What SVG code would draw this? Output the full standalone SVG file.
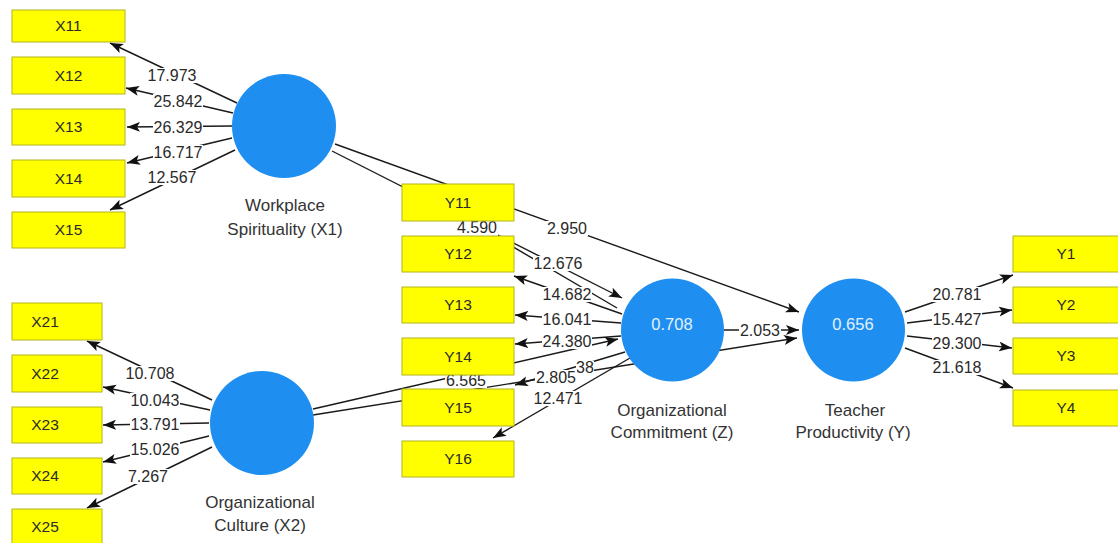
<svg xmlns="http://www.w3.org/2000/svg" width="1118" height="543" viewBox="0 0 1118 543">
<style>
.bg{fill:#ffffff}
.ln{stroke:#1a1a1a;stroke-width:1.4;fill:none}
.arr{marker-end:url(#ah)}
.box{fill:#ffff00;stroke:#b4b41e;stroke-width:1}
.bt{font-family:"Liberation Sans",Arial,sans-serif;font-size:15.5px;fill:#2a2a2a;text-anchor:middle}
.num{font-family:"Liberation Sans",Arial,sans-serif;font-size:16px;fill:#2a2a2a;text-anchor:middle}
.lbw{fill:#ffffff}
.circ{fill:#1e8ff0}
.cv{font-family:"Liberation Sans",Arial,sans-serif;font-size:16.5px;fill:#e4f2ff;text-anchor:middle}
.nm{font-family:"Liberation Sans",Arial,sans-serif;font-size:17px;fill:#333333;text-anchor:middle}
</style>
<defs>
<marker id="ah" markerUnits="userSpaceOnUse" markerWidth="14" markerHeight="11" refX="13" refY="5" orient="auto">
<path d="M0,0 L13,5 L0,10 L3,5 z" fill="#111111"/>
</marker>
</defs>
<rect x="0" y="0" width="1118" height="543" class="bg"/>
<g id="connectors">
<line class="ln arr" x1="237" y1="103" x2="110" y2="43"/>
<line class="ln arr" x1="233" y1="113" x2="126" y2="88"/>
<line class="ln arr" x1="232" y1="126" x2="127" y2="127"/>
<line class="ln arr" x1="232" y1="138" x2="127" y2="163"/>
<line class="ln arr" x1="235" y1="150" x2="110" y2="210"/>
<line class="ln arr" x1="212" y1="400" x2="87" y2="341"/>
<line class="ln arr" x1="210" y1="410" x2="103" y2="387"/>
<line class="ln arr" x1="209" y1="423" x2="103" y2="425"/>
<line class="ln arr" x1="209" y1="436" x2="103" y2="462"/>
<line class="ln arr" x1="212" y1="447" x2="87" y2="508"/>
<line class="ln arr" x1="905" y1="312" x2="1013" y2="275"/>
<line class="ln arr" x1="907" y1="323" x2="1012" y2="310"/>
<line class="ln arr" x1="907" y1="336" x2="1012" y2="348"/>
<line class="ln arr" x1="905" y1="348" x2="1013" y2="388"/>
<line class="ln arr" x1="617" y1="308" x2="469" y2="221"/>
<line class="ln arr" x1="622" y1="314" x2="514" y2="276"/>
<line class="ln arr" x1="621" y1="323" x2="515" y2="315"/>
<line class="ln arr" x1="621" y1="336" x2="515" y2="344"/>
<line class="ln arr" x1="625" y1="352" x2="515" y2="385"/>
<line class="ln arr" x1="630" y1="358" x2="493" y2="438"/>
<line class="ln arr" x1="332" y1="151" x2="622" y2="298"/>
<line class="ln arr" x1="335" y1="144" x2="799" y2="312"/>
<line class="ln arr" x1="313" y1="409" x2="618" y2="339"/>
<line class="ln arr" x1="313" y1="415" x2="797" y2="338"/>
<line class="ln arr" x1="724" y1="330" x2="799" y2="330"/>
</g>
<g id="labels">
<rect class="lbw" x="147" y="68" width="50" height="15"/><text class="num" x="172" y="81">17.973</text>
<rect class="lbw" x="153" y="94" width="50" height="15"/><text class="num" x="178" y="107">25.842</text>
<rect class="lbw" x="153" y="120" width="50" height="15"/><text class="num" x="178" y="133">26.329</text>
<rect class="lbw" x="153" y="145" width="50" height="15"/><text class="num" x="178" y="158">16.717</text>
<rect class="lbw" x="147" y="170" width="50" height="15"/><text class="num" x="172" y="183">12.567</text>
<rect class="lbw" x="125" y="366" width="50" height="15"/><text class="num" x="150" y="379">10.708</text>
<rect class="lbw" x="130" y="393" width="50" height="15"/><text class="num" x="155" y="406">10.043</text>
<rect class="lbw" x="130" y="417" width="50" height="15"/><text class="num" x="155" y="430">13.791</text>
<rect class="lbw" x="130" y="442" width="50" height="15"/><text class="num" x="155" y="455">15.026</text>
<rect class="lbw" x="127" y="469" width="42" height="15"/><text class="num" x="148" y="482">7.267</text>
<rect class="lbw" x="546" y="221" width="42" height="15"/><text class="num" x="567" y="234">2.950</text>
<rect class="lbw" x="456" y="221" width="42" height="15"/><text class="num" x="477" y="233">4.590</text>
<rect class="lbw" x="533" y="256" width="50" height="15"/><text class="num" x="558" y="269">12.676</text>
<rect class="lbw" x="542" y="287" width="50" height="15"/><text class="num" x="567" y="300">14.682</text>
<rect class="lbw" x="542" y="312" width="50" height="15"/><text class="num" x="567" y="325">16.041</text>
<rect class="lbw" x="542" y="334" width="50" height="15"/><text class="num" x="567" y="347">24.380</text>
<rect class="lbw" x="576" y="361" width="18" height="14"/><text class="num" x="585" y="373">38</text>
<rect class="lbw" x="535" y="370" width="42" height="15"/><text class="num" x="556" y="383">2.805</text>
<rect class="lbw" x="533" y="391" width="50" height="15"/><text class="num" x="558" y="404">12.471</text>
<rect class="lbw" x="445" y="373" width="42" height="15"/><text class="num" x="466" y="386">6.565</text>
<rect class="lbw" x="739" y="323" width="42" height="15"/><text class="num" x="760" y="336">2.053</text>
<rect class="lbw" x="932" y="287" width="50" height="15"/><text class="num" x="957" y="300">20.781</text>
<rect class="lbw" x="932" y="312" width="50" height="15"/><text class="num" x="957" y="325">15.427</text>
<rect class="lbw" x="932" y="336" width="50" height="15"/><text class="num" x="957" y="349">29.300</text>
<rect class="lbw" x="932" y="360" width="50" height="15"/><text class="num" x="957" y="373">21.618</text>
</g>
<g id="X11"><rect class="box" x="12" y="10" width="113" height="32"/><text class="bt" x="68.5" y="31">X11</text></g>
<g id="X12"><rect class="box" x="12" y="57" width="113" height="37"/><text class="bt" x="68.5" y="81">X12</text></g>
<g id="X13"><rect class="box" x="12" y="109" width="113" height="36"/><text class="bt" x="68.5" y="132">X13</text></g>
<g id="X14"><rect class="box" x="12" y="160" width="113" height="37"/><text class="bt" x="68.5" y="184">X14</text></g>
<g id="X15"><rect class="box" x="12" y="212" width="113" height="36"/><text class="bt" x="68.5" y="235">X15</text></g>
<g id="X21"><rect class="box" x="12" y="303" width="90" height="37"/><text class="bt" x="45" y="327">X21</text></g>
<g id="X22"><rect class="box" x="12" y="355" width="90" height="37"/><text class="bt" x="45" y="379">X22</text></g>
<g id="X23"><rect class="box" x="12" y="407" width="90" height="36"/><text class="bt" x="45" y="430">X23</text></g>
<g id="X24"><rect class="box" x="12" y="458" width="90" height="36"/><text class="bt" x="45" y="481">X24</text></g>
<g id="X25"><rect class="box" x="12" y="509" width="90" height="36"/><text class="bt" x="45" y="532">X25</text></g>
<g id="Y11"><rect class="box" x="402" y="184" width="112" height="37"/><text class="bt" x="458" y="208">Y11</text></g>
<g id="Y12"><rect class="box" x="402" y="236" width="112" height="36"/><text class="bt" x="458" y="259">Y12</text></g>
<g id="Y13"><rect class="box" x="402" y="287" width="112" height="36"/><text class="bt" x="458" y="310">Y13</text></g>
<g id="Y14"><rect class="box" x="402" y="338" width="112" height="37"/><text class="bt" x="458" y="362">Y14</text></g>
<g id="Y15"><rect class="box" x="402" y="389" width="112" height="37"/><text class="bt" x="458" y="413">Y15</text></g>
<g id="Y16"><rect class="box" x="402" y="441" width="112" height="36"/><text class="bt" x="458" y="464">Y16</text></g>
<g id="Y1"><rect class="box" x="1013" y="236" width="112" height="36"/><text class="bt" x="1066" y="259">Y1</text></g>
<g id="Y2"><rect class="box" x="1013" y="287" width="112" height="36"/><text class="bt" x="1066" y="310">Y2</text></g>
<g id="Y3"><rect class="box" x="1013" y="338" width="112" height="36"/><text class="bt" x="1066" y="361">Y3</text></g>
<g id="Y4"><rect class="box" x="1013" y="390" width="112" height="36"/><text class="bt" x="1066" y="413">Y4</text></g>
<g id="X1"><circle class="circ" cx="284" cy="126" r="52"/><text class="nm" x="285" y="211">Workplace</text><text class="nm" x="285" y="235">Spirituality (X1)</text></g>
<g id="X2"><circle class="circ" cx="262" cy="423" r="52"/><text class="nm" x="260" y="508">Organizational</text><text class="nm" x="260" y="531">Culture (X2)</text></g>
<g id="Z"><circle class="circ" cx="672.5" cy="330" r="51.5"/><text class="cv" x="672" y="330">0.708</text><text class="nm" x="672" y="416">Organizational</text><text class="nm" x="672" y="438">Commitment (Z)</text></g>
<g id="Y"><circle class="circ" cx="853.5" cy="330" r="51.5"/><text class="cv" x="853" y="330">0.656</text><text class="nm" x="855" y="416">Teacher</text><text class="nm" x="853" y="438">Productivity (Y)</text></g>
</svg>
